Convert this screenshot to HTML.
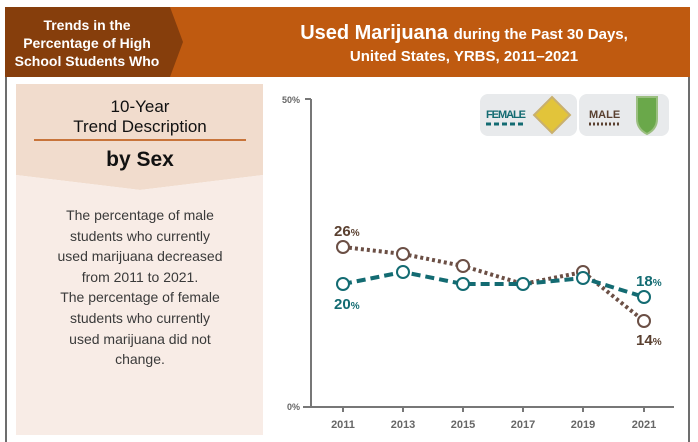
<!DOCTYPE html>
<html><head><style>
body{margin:0;width:698px;height:442px;background:#fff;overflow:hidden;font-family:"Liberation Sans",sans-serif;position:relative}
.a{position:absolute}
</style></head><body>
<div class="a" style="left:5px;top:7px;width:2px;height:435px;background:#6d6d6d"></div>
<div class="a" style="left:688px;top:7px;width:2px;height:435px;background:#6d6d6d"></div>
<svg class="a" style="left:0;top:0" width="698" height="442">
<rect x="5" y="7" width="685" height="70" fill="#bf5a10"/>
<polygon points="5,7 170,7 183,42 170,77 5,77" fill="#863e0c"/>
<text fill="#fff" font-weight="bold" font-size="14" text-anchor="middle"><tspan x="87" y="30">Trends in the</tspan><tspan x="87" y="48">Percentage of High</tspan><tspan x="87" y="66">School Students Who</tspan></text>
<text fill="#fff" font-weight="bold" text-anchor="middle"><tspan x="464" y="39" font-size="20">Used Marijuana <tspan font-size="15">during the Past 30 Days,</tspan></tspan><tspan x="464" y="61" font-size="15">United States, YRBS, 2011–2021</tspan></text>
<polygon points="16,84 263,84 263,175 140,190 16,175" fill="#f1dccd"/>
<polygon points="16,175 140,190 263,175 263,435 16,435" fill="#f8ece6"/>
<text fill="#111" font-size="17" text-anchor="middle"><tspan x="140" y="112">10-Year</tspan><tspan x="140" y="132">Trend Description</tspan></text>
<rect x="34" y="139" width="212" height="2" fill="#c8743a"/>
<text x="140" y="166" fill="#111" font-size="21" font-weight="bold" text-anchor="middle">by Sex</text>
<text fill="#3a3a3a" font-size="14" text-anchor="middle"><tspan x="140" y="220">The percentage of male</tspan><tspan x="140" y="241">students who currently</tspan><tspan x="140" y="261">used marijuana decreased</tspan><tspan x="140" y="282">from 2011 to 2021.</tspan><tspan x="140" y="302">The percentage of female</tspan><tspan x="140" y="323">students who currently</tspan><tspan x="140" y="344">used marijuana did not</tspan><tspan x="140" y="364">change.</tspan></text>
<line x1="311" y1="99" x2="311" y2="407" stroke="#777" stroke-width="2"/>
<line x1="305" y1="99" x2="311" y2="99" stroke="#777" stroke-width="2"/>
<line x1="303" y1="407" x2="674" y2="407" stroke="#777" stroke-width="2"/>
<text x="300" y="103" font-size="9" font-weight="bold" fill="#666" text-anchor="end">50%</text>
<text x="300" y="410" font-size="9" font-weight="bold" fill="#666" text-anchor="end">0%</text>
<g stroke="#777" stroke-width="2"><line x1="343" y1="407" x2="343" y2="412"/><line x1="403" y1="407" x2="403" y2="412"/><line x1="463" y1="407" x2="463" y2="412"/><line x1="523" y1="407" x2="523" y2="412"/><line x1="583" y1="407" x2="583" y2="412"/><line x1="644" y1="407" x2="644" y2="412"/></g>
<g font-size="11" font-weight="bold" fill="#666" text-anchor="middle"><text x="343" y="428">2011</text><text x="403" y="428">2013</text><text x="463" y="428">2015</text><text x="523" y="428">2017</text><text x="583" y="428">2019</text><text x="644" y="428">2021</text></g>
<rect x="480" y="94" width="97" height="42" rx="8" fill="#e8eaec"/>
<text x="486" y="118" font-size="11" font-weight="bold" fill="#136b72" textLength="40">FEMALE</text>
<line x1="486" y1="124" x2="526" y2="124" stroke="#136b72" stroke-width="3" stroke-dasharray="5,3"/>
<polygon points="552,97 570,115 552,133 534,115" fill="#e2c43a" stroke="#c9b070" stroke-width="2"/>
<rect x="579" y="94" width="90" height="42" rx="8" fill="#e8eaec"/>
<text x="589" y="118" font-size="11" font-weight="bold" fill="#5a4030">MALE</text>
<line x1="589" y1="124" x2="620" y2="124" stroke="#5a4030" stroke-width="3" stroke-dasharray="2,2"/>
<path d="M637,97 h20 v22 q0,10 -10,15 q-10,-5 -10,-15 z" fill="#6aa84a" stroke="#9bbf80" stroke-width="2"/>
<polyline points="343,247 403,254 463,266 523,284 583,272 644,321" fill="none" stroke="#6b4f45" stroke-width="4" stroke-dasharray="3,3"/>
<polyline points="343,284 403,272 463,284 523,284 583,278 644,297" fill="none" stroke="#136b72" stroke-width="4" stroke-dasharray="9,5"/>
<g fill="#fff" stroke="#6b4f45" stroke-width="2"><circle cx="343" cy="247" r="6"/><circle cx="403" cy="254" r="6"/><circle cx="463" cy="266" r="6"/><circle cx="583" cy="272" r="6"/><circle cx="644" cy="321" r="6"/></g>
<g fill="#fff" stroke="#136b72" stroke-width="2"><circle cx="343" cy="284" r="6"/><circle cx="403" cy="272" r="6"/><circle cx="463" cy="284" r="6"/><circle cx="523" cy="284" r="6"/><circle cx="583" cy="278" r="6"/><circle cx="644" cy="297" r="6"/></g>
<g font-weight="bold" font-size="15"><text x="334" y="236" fill="#5a4030">26<tspan font-size="10">%</tspan></text>
<text x="334" y="309" fill="#136b72">20<tspan font-size="10">%</tspan></text>
<text x="636" y="286" fill="#136b72">18<tspan font-size="10">%</tspan></text>
<text x="636" y="345" fill="#5a4030">14<tspan font-size="10">%</tspan></text></g>
</svg>
</body></html>
